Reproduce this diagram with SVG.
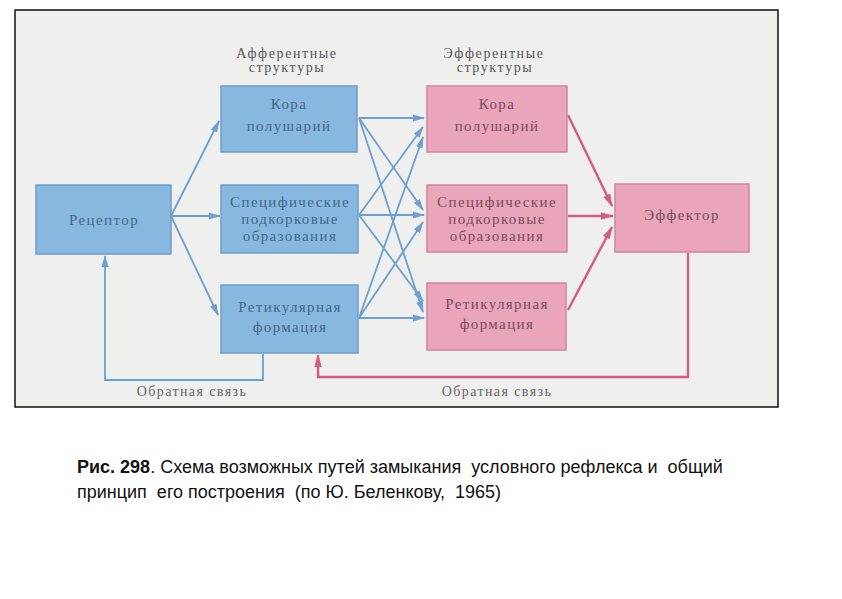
<svg xmlns="http://www.w3.org/2000/svg" width="842" height="599" viewBox="0 0 842 599">
<style>
.bg{fill:#ffffff}
.frame{fill:#efefed;stroke:#111;stroke-width:1.5}
.bb{fill:#88b8df;stroke:#6c9ecc;stroke-width:1.5}
.pb{fill:#e9a5b9;stroke:#d6839c;stroke-width:1.5}
.bt{font-family:"Liberation Serif","DejaVu Serif",serif;font-size:15px;letter-spacing:1.4px;fill:#44668a;text-anchor:middle}
.pt{font-family:"Liberation Serif","DejaVu Serif",serif;font-size:15px;letter-spacing:1.4px;fill:#7c4a5e;text-anchor:middle}
.tt{font-family:"Liberation Serif","DejaVu Serif",serif;font-size:14px;letter-spacing:1.6px;fill:#555;text-anchor:middle}
.lab{font-family:"Liberation Serif","DejaVu Serif",serif;font-size:14px;letter-spacing:1.4px;fill:#666;text-anchor:middle}
.bl{fill:none;stroke:#6d9fd0;stroke-width:1.8}
.pl{fill:none;stroke:#d65a82;stroke-width:2.4}
.cap{font-family:"Liberation Sans",Arial,sans-serif;font-size:18px;fill:#111;white-space:pre}
</style>
<defs>
<marker id="ab" viewBox="0 0 12 8" refX="11" refY="4" markerWidth="12" markerHeight="8" markerUnits="userSpaceOnUse" orient="auto">
<path d="M0,0.5 L12,4 L0,7.5 z" fill="#6d9fd0"/>
</marker>
<marker id="ap" viewBox="0 0 12 8" refX="11" refY="4" markerWidth="13" markerHeight="9" markerUnits="userSpaceOnUse" orient="auto">
<path d="M0,0.5 L12,4 L0,7.5 z" fill="#d65a82"/>
</marker>
</defs>
<rect class="bg" x="0" y="0" width="842" height="599"/>
<rect class="frame" x="15" y="10" width="763" height="397"/>

<text class="tt" x="287" y="58">Афферентные</text>
<text class="tt" x="287" y="72">структуры</text>
<text class="tt" x="494" y="58">Эфферентные</text>
<text class="tt" x="495" y="72">структуры</text>

<g id="connectors">
<line class="bl" x1="171" y1="216" x2="219" y2="121" marker-end="url(#ab)"/>
<line class="bl" x1="171" y1="216" x2="220" y2="216" marker-end="url(#ab)"/>
<line class="bl" x1="171" y1="216" x2="218" y2="315" marker-end="url(#ab)"/>

<line class="bl" x1="359" y1="118" x2="424" y2="118" marker-end="url(#ab)"/>
<line class="bl" x1="359" y1="118" x2="423" y2="210" marker-end="url(#ab)"/>
<line class="bl" x1="359" y1="118" x2="423" y2="312" marker-end="url(#ab)"/>
<line class="bl" x1="359" y1="215" x2="423" y2="127" marker-end="url(#ab)"/>
<line class="bl" x1="359" y1="215" x2="424" y2="215" marker-end="url(#ab)"/>
<line class="bl" x1="359" y1="215" x2="423" y2="301" marker-end="url(#ab)"/>
<line class="bl" x1="359" y1="318" x2="423" y2="137" marker-end="url(#ab)"/>
<line class="bl" x1="359" y1="318" x2="423" y2="222" marker-end="url(#ab)"/>
<line class="bl" x1="359" y1="318" x2="424" y2="318" marker-end="url(#ab)"/>

<line class="pl" x1="568" y1="115" x2="612" y2="206" marker-end="url(#ap)"/>
<line class="pl" x1="568" y1="216" x2="613" y2="216" marker-end="url(#ap)"/>
<line class="pl" x1="568" y1="310" x2="612" y2="227" marker-end="url(#ap)"/>

<path class="bl" d="M263,354 V380 H105 V256" marker-end="url(#ab)"/>
<path class="pl" d="M688,253 V377 H318 V355" marker-end="url(#ap)"/>
</g>

<g id="receptor">
<rect class="bb" x="36" y="185" width="135" height="69"/>
<text class="bt" x="104" y="225">Рецептор</text>
</g>
<g id="aff-cortex">
<rect class="bb" x="221" y="86" width="136" height="66"/>
<text class="bt" x="289" y="109">Кора</text>
<text class="bt" x="289" y="131">полушарий</text>
</g>
<g id="aff-subcortical">
<rect class="bb" x="221" y="185" width="137" height="68"/>
<text class="bt" x="290" y="207">Специфические</text>
<text class="bt" x="290" y="224">подкорковые</text>
<text class="bt" x="290" y="241">образования</text>
</g>
<g id="aff-reticular">
<rect class="bb" x="221" y="285" width="137" height="68"/>
<text class="bt" x="290" y="312">Ретикулярная</text>
<text class="bt" x="290" y="332">формация</text>
</g>
<g id="eff-cortex">
<rect class="pb" x="427" y="86" width="140" height="66"/>
<text class="pt" x="497" y="109">Кора</text>
<text class="pt" x="497" y="131">полушарий</text>
</g>
<g id="eff-subcortical">
<rect class="pb" x="427" y="185" width="140" height="67"/>
<text class="pt" x="497" y="207">Специфические</text>
<text class="pt" x="497" y="224">подкорковые</text>
<text class="pt" x="497" y="241">образования</text>
</g>
<g id="eff-reticular">
<rect class="pb" x="427" y="283" width="139" height="67"/>
<text class="pt" x="497" y="309">Ретикулярная</text>
<text class="pt" x="497" y="329">формация</text>
</g>
<g id="effector">
<rect class="pb" x="615" y="184" width="134" height="68"/>
<text class="pt" x="682" y="220">Эффектор</text>
</g>

<text class="lab" x="192" y="396">Обратная связь</text>
<text class="lab" x="497" y="396">Обратная связь</text>

<text class="cap" x="77" y="473"><tspan font-weight="bold">Рис. 298</tspan>. Схема возможных путей замыкания  условного рефлекса и  общий</text>
<text class="cap" x="77" y="498">принцип  его построения  (по Ю. Беленкову,  1965)</text>
</svg>
